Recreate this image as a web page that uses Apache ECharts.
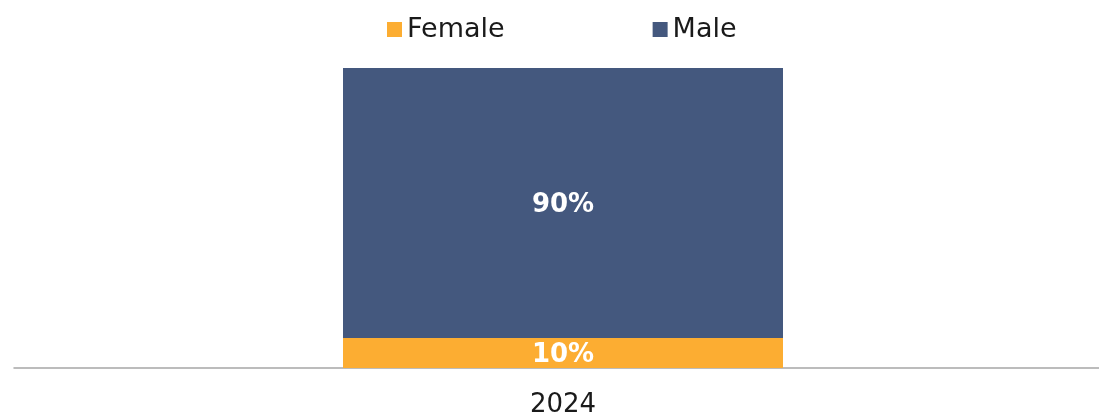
<!DOCTYPE html>
<html>
<head>
<meta charset="utf-8">
<script src="https://cdn.jsdelivr.net/npm/echarts@6/dist/echarts.min.js"></script>
<style>
  html, body { margin: 0; padding: 0; background: #ffffff; }
  #chart { width: 1099px; height: 414px; }
</style>
</head>
<body>
<div id="chart"></div>
<script>
// Gender split by year (percent of total)
const years = ['2024'];
const female = [10];
const male = [90];

const FONT = '"DejaVu Sans", "Noto Sans", sans-serif';

const chart = echarts.init(document.getElementById('chart'), null, { renderer: 'canvas' });

const labelStyle = {
  show: true,
  position: 'inside',
  offset: [0, 2],
  color: '#ffffff',
  fontFamily: FONT,
  fontWeight: 'bold',
  fontSize: 26,
  formatter: p => p.value + '%'
};

chart.setOption({
  animation: false,
  backgroundColor: '#ffffff',
  textStyle: { fontFamily: FONT },
  legend: {
    top: 16,
    left: 387,
    padding: 0,
    itemWidth: 15,
    itemHeight: 15,
    itemGap: 148,
    icon: 'rect',
    textStyle: { fontFamily: FONT, fontSize: 27, color: '#1a1a1a' },
    data: ['Female', 'Male']
  },
  grid: {
    left: 14,
    width: 1098,
    top: 68,
    bottom: 46,
    containLabel: false,
    outerBoundsMode: 'none'
  },
  xAxis: {
    type: 'category',
    data: years,
    axisLine: { show: true, lineStyle: { color: '#a6a6a6', width: 1.5 } },
    axisTick: { show: false },
    axisLabel: { color: '#1a1a1a', fontFamily: FONT, fontSize: 26, margin: 24 }
  },
  yAxis: {
    type: 'value',
    min: 0,
    max: 100,
    show: false,
    splitLine: { show: false }
  },
  series: [
    {
      name: 'Female',
      type: 'bar',
      stack: 'total',
      barWidth: 440,
      data: female,
      itemStyle: { color: '#FCAD32' },
      label: labelStyle
    },
    {
      name: 'Male',
      type: 'bar',
      stack: 'total',
      barWidth: 440,
      data: male,
      itemStyle: { color: '#44587E' },
      label: labelStyle
    }
  ]
});
</script>
</body>
</html>
